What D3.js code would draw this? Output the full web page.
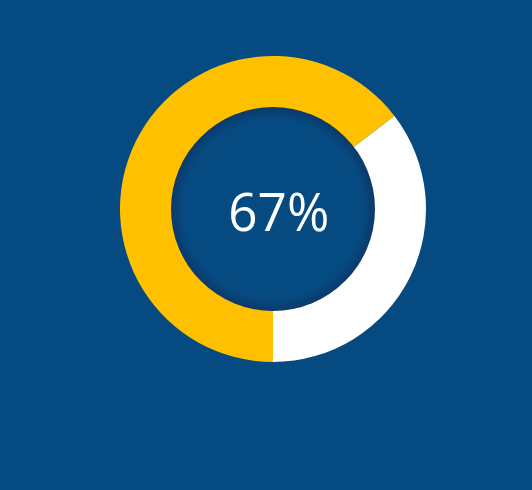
<!DOCTYPE html>
<html><head><meta charset="utf-8">
<script src="https://cdn.jsdelivr.net/npm/d3@7"></script>
<style>html,body{margin:0;padding:0;background:#054b81;overflow:hidden}</style>
</head><body>
<svg id="c" width="532" height="490"></svg>
<script>
const categories = ["Achieved", "Remaining"];
const values = [64.6, 35.4];
const labelText = "67%";
const colors = ["#ffc000", "#ffffff"];

const svg = d3.select("#c");
svg.append("rect").attr("width", 532).attr("height", 490).attr("fill", "#054b81");

const defs = svg.append("defs");
const grad = defs.append("radialGradient").attr("id", "inner");
grad.append("stop").attr("offset", "0.88").attr("stop-color", "#054b81");
grad.append("stop").attr("offset", "0.97").attr("stop-color", "#0a3d70");
grad.append("stop").attr("offset", "1").attr("stop-color", "#0c3a6b");

const cx = 273, cy = 209, rOuter = 153, rInner = 102;
const g = svg.append("g").attr("transform", `translate(${cx},${cy})`);

const pie = d3.pie().sort(null).startAngle(Math.PI).endAngle(3 * Math.PI);
const arc = d3.arc().innerRadius(rInner - 1).outerRadius(rOuter);

g.selectAll("path.slice")
  .data(pie(values))
  .join("path")
  .attr("class", "slice")
  .attr("d", arc)
  .attr("fill", (d, i) => colors[i]);

g.append("circle").attr("r", rInner).attr("fill", "url(#inner)");

g.append("text")
  .attr("x", 5.8).attr("y", 22)
  .attr("text-anchor", "middle")
  .attr("fill", "#ffffff")
  .attr("textLength", 101)
  .attr("lengthAdjust", "spacingAndGlyphs")
  .style("font-family", "'Open Sans', sans-serif")
  .style("font-size", "53px")
  .text(labelText);
</script>
</body></html>
